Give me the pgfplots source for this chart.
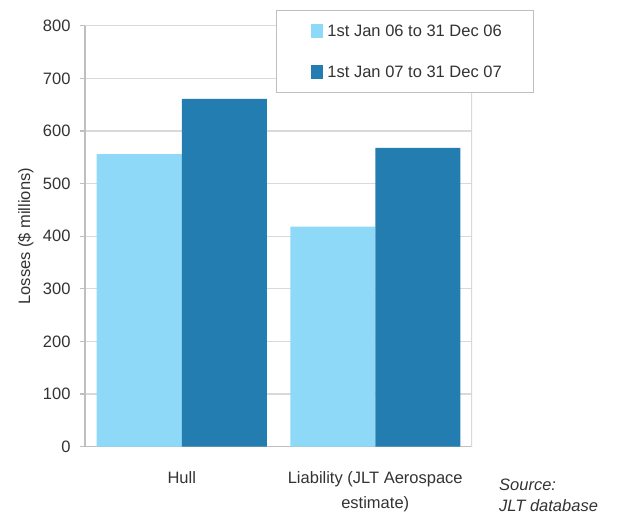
\documentclass[border=0pt]{standalone}
\usepackage{pgfplots}
\pgfplotsset{compat=1.18}
\usepackage{fontspec}
\setmainfont{Liberation Sans}
\definecolor{lightbar}{HTML}{8ED8F8}
\definecolor{darkbar}{HTML}{237DB0}
\definecolor{gridgray}{HTML}{D9D9D9}
\definecolor{axisgray}{HTML}{BFBFBF}
\definecolor{labelgray}{HTML}{333333}
\newcommand{\chartfont}{\fontsize{16.5bp}{22bp}\selectfont}
\begin{document}
\begin{tikzpicture}
\useasboundingbox (0,0) rectangle (629bp,514bp);
\begin{axis}[
  at={(85bp,67.3bp)}, anchor=south west,
  scale only axis, width=387bp, height=421bp,
  ymin=0, ymax=800, ytick={0,100,...,800},
  xmin=-0.5, xmax=1.5,
  axis x line*=bottom, axis y line*=left,
  axis line style={axisgray, line width=1.5bp, -},
  xtick={0,1},
  xticklabels={Hull, {Liability (JLT Aerospace\\estimate)}},
  xticklabel style={align=center, text=labelgray, font=\fontsize{16.5bp}{25bp}\selectfont, yshift=-16bp},
  x tick style={draw=none},
  extra x ticks={-0.5,0.5,1.5}, extra x tick labels={},
  extra x tick style={tick align=outside, major tick length=6bp,
    tick style={draw=axisgray, line width=1.2bp}, grid=none},
  y tick style={draw=axisgray, line width=1.2bp},
  tick align=outside, major tick length=5bp,
  yticklabel style={text=labelgray, font=\chartfont, xshift=-6bp},
  /pgf/number format/assume math mode=true,
  ymajorgrids, grid style={gridgray, line width=1.3bp},
  ylabel={Losses (\$ millions)},
  ylabel style={at={(axis description cs:-0.153,0.5)}, anchor=center, text=labelgray, font=\chartfont},
  ybar=0pt, bar width=85bp,
  legend style={at={(rel axis cs:0.4935,1.0373)}, anchor=north west,
    draw=axisgray, line width=1bp, fill=white,
    inner xsep=31bp, inner ysep=13bp, row sep=26bp,
    nodes={inner sep=1bp, text=labelgray, font=\chartfont}},
  legend cell align=left,
  legend image code/.code={\path (-4bp,0bp) (15bp,0bp);\fill[#1] (0bp,-7bp) rectangle (12bp,7bp);},
]
\addplot[fill=lightbar, draw=none] coordinates {(0,556) (1,418)};
\addplot[fill=darkbar, draw=none] coordinates {(0,661) (1,568)};
\legend{1st Jan 06 to 31 Dec 06, 1st Jan 07 to 31 Dec 07}
\draw[gridgray, line width=1.3bp] (rel axis cs:1,0) -- (rel axis cs:1,1);
\end{axis}
\node[anchor=north west, align=left, inner sep=0pt, text=labelgray, font=\fontsize{16.5bp}{21bp}\selectfont\itshape] at (499bp,35.5bp) {Source:\\JLT database};
\end{tikzpicture}
\end{document}
